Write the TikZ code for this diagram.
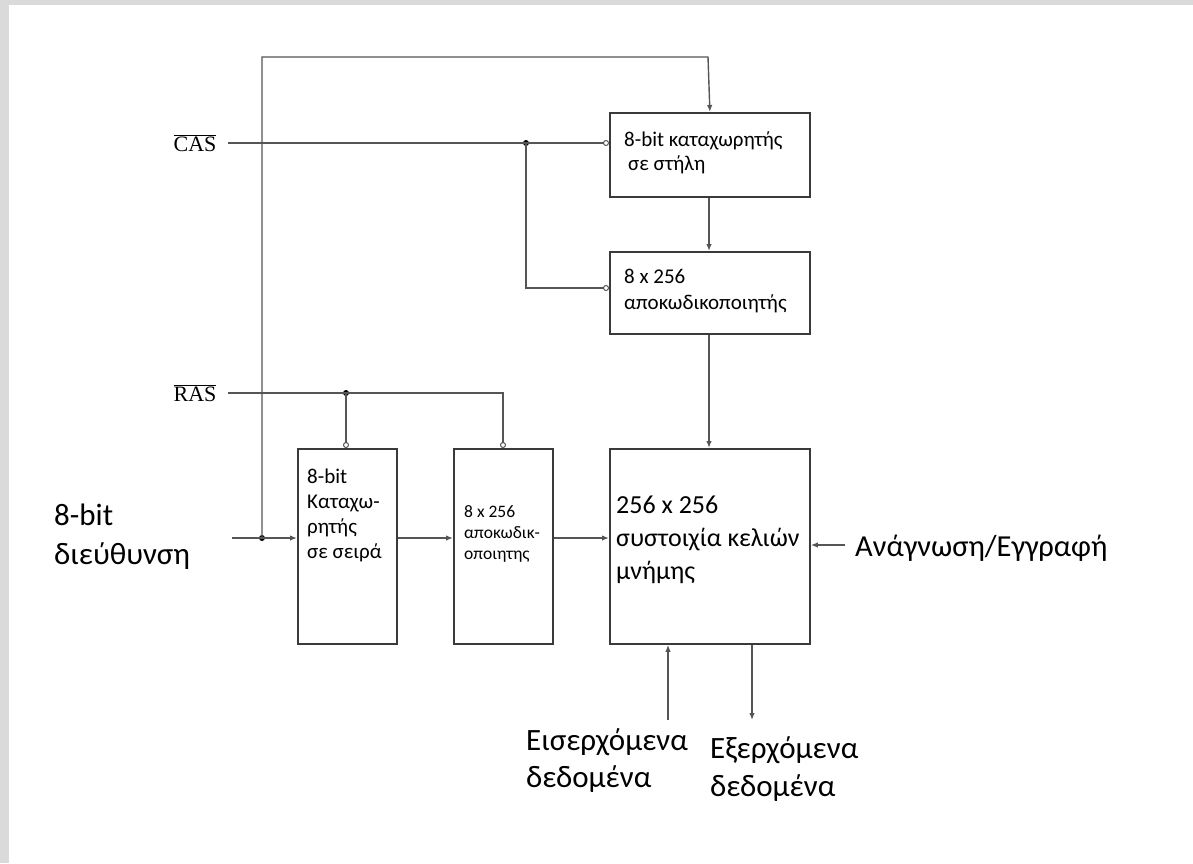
\documentclass[tikz,border=0pt]{standalone}
\usepackage{fontspec}
\setmainfont{Carlito}
\newfontfamily\sigfont{Liberation Serif}
\usetikzlibrary{arrows.meta}
\definecolor{boxcol}{HTML}{3A3A3A}
\definecolor{wirecol}{HTML}{555555}
\definecolor{framecol}{HTML}{DADADA}
\begin{document}
\begin{tikzpicture}[x=1pt,y=-1pt,
  blk/.style={draw=boxcol, line width=1.8pt, rectangle, inner sep=0pt, anchor=north west},
  wire/.style={draw=wirecol, line width=1.4pt},
  arr/.style={wire, -{Latex[length=7pt,width=5.5pt]}},
  bub/.style={wire, -{Circle[open,length=6pt,width=6pt,line width=1pt]}},
  jdot/.style={circle, fill=black, inner sep=0pt, minimum size=6pt},
  txt/.style={anchor=west, align=left, inner sep=0pt, text=black},
  sig/.style={inner sep=0pt, text=black, font=\sigfont\fontsize{22}{26}\selectfont},
]
% page and its frame
\useasboundingbox (0,0) rectangle (1193,863);
\fill[framecol] (0,0) rectangle (1193,863);
\fill[white] (9,5) rectangle (1193,863);

% blocks
\node[blk, minimum width=200pt, minimum height=84pt] (creg) at (609,112) {};
\node[blk, minimum width=200pt, minimum height=82pt] (cdec) at (609,251) {};
\node[blk, minimum width=99pt, minimum height=195pt] (rreg) at (297,448) {};
\node[blk, minimum width=99pt, minimum height=195pt] (rdec) at (453,448) {};
\node[blk, minimum width=200pt, minimum height=195pt] (arr) at (609,448) {};

% block texts
\node[txt, font=\fontsize{21}{24}\selectfont] (creg-t) at (624,153) {8-bit καταχωρητής\\\hspace{4pt}σε στήλη};
\node[txt, font=\fontsize{21}{26}\selectfont] (cdec-t) at (624,291) {8 x 256\\αποκωδικοποιητής};
\node[txt, font=\fontsize{21}{25}\selectfont] (rreg-t) at (307,515) {8-bit\\Καταχω-\\ρητής\\σε σειρά};
\node[txt, font=\fontsize{17.5}{21}\selectfont] (rdec-t) at (464,534) {8 x 256\\αποκωδικ-\\οποιητης};
\node[txt, font=\fontsize{26}{33}\selectfont] (arr-t) at (616,540) {256 x 256\\συστοιχία κελιών\\μνήμης};

% outside labels
\node[txt, font=\fontsize{31}{39}\selectfont] (addr) at (54,537) {8-bit\\διεύθυνση};
\node[txt, font=\fontsize{30.5}{34}\selectfont] (rw) at (855,548) {Ανάγνωση/Εγγραφή};
\node[txt, font=\fontsize{31}{37}\selectfont] (din) at (526,761) {Εισερχόμενα\\δεδομένα};
\node[txt, font=\fontsize{31}{38}\selectfont] (dout) at (710,769) {Εξερχόμενα\\δεδομένα};
\node[sig] (cas) at (195,143) {$\overline{\mbox{CAS}}$};
\node[sig] (ras) at (195,393) {$\overline{\mbox{RAS}}$};

% junctions and free ends
\coordinate (addr-in) at (232,538);
\node[jdot] (j-addr) at (262,538) {};
\node[jdot] (j-cas) at (526,143) {};
\node[jdot] (j-ras) at (346,393) {};
\coordinate (cas-in) at (228,143);
\coordinate (ras-in) at (228,393);
\coordinate (rw-in) at (845,545);
\coordinate (din-in) at (668,720);
\coordinate (dout-end) at (752,720);

% address path
\draw[wire] (addr-in) -- (j-addr.center);
\draw[arr] (j-addr.center) -- (rreg.west |- j-addr);
\draw[arr] (j-addr.center) -- (262,57) -- (708,57) -- (708,112 -| creg.north);
\draw[arr] (rreg.east |- j-addr) -- (rdec.west |- j-addr);
\draw[arr] (rdec.east |- j-addr) -- (arr.west |- j-addr);

% column strobe
\draw[wire] (cas-in) -- (j-cas.center);
\draw[bub] (j-cas.center) -- (creg.west |- j-cas);
\draw[bub] (j-cas.center) -- (526,288) -- (cdec.west |- 0,288);

% row strobe
\draw[wire] (ras-in) -- (j-ras.center);
\draw[bub] (j-ras.center) -- (rreg.north -| j-ras);
\draw[bub] (j-ras.center) -- (503,393) -- (503,448);

% column chain
\draw[arr] (creg.south -| 709,0) -- (cdec.north -| 709,0);
\draw[arr] (cdec.south -| 709,0) -- (arr.north -| 709,0);

% array control and data
\draw[arr] (rw-in) -- (arr.east |- rw-in);
\draw[arr] (din-in) -- (arr.south -| din-in);
\draw[arr] (arr.south -| dout-end) -- (dout-end);
\end{tikzpicture}
\end{document}
